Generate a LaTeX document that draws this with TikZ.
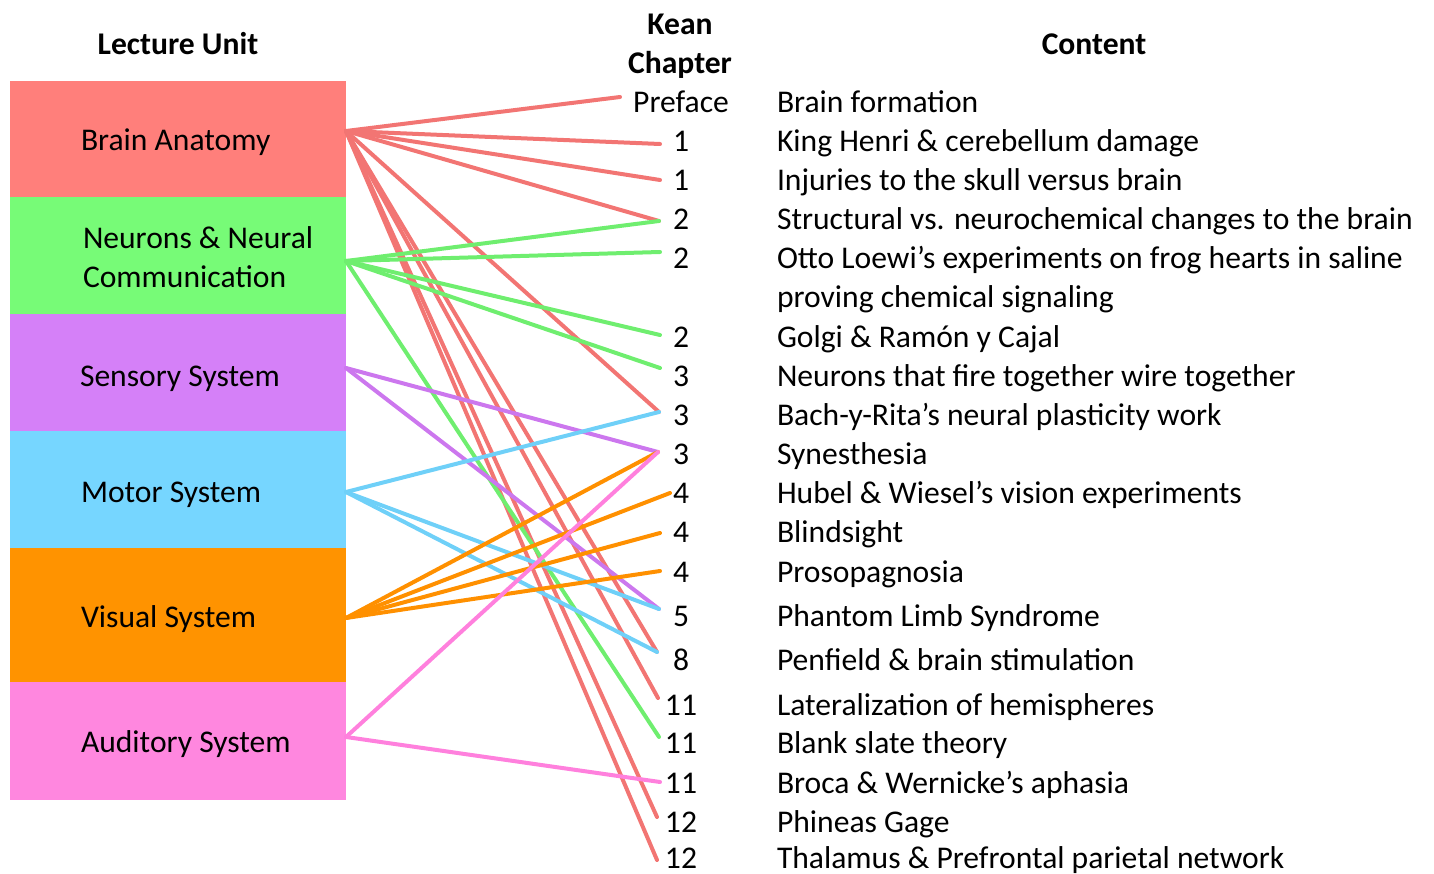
\documentclass[tikz,border=0pt]{standalone}
\usepackage{fontspec}
\setmainfont{Carlito}
\definecolor{bRed}{HTML}{FF7F7B}
\definecolor{bGreen}{HTML}{77FB77}
\definecolor{bPurple}{HTML}{D580F8}
\definecolor{bBlue}{HTML}{76D6FF}
\definecolor{bOrange}{HTML}{FF9300}
\definecolor{bPink}{HTML}{FF87DF}
\definecolor{lRed}{HTML}{F27573}
\definecolor{lGreen}{HTML}{6FEE6F}
\definecolor{lPurple}{HTML}{CC77EE}
\definecolor{lBlue}{HTML}{6FD0F8}
\definecolor{lOrange}{HTML}{FF9000}
\definecolor{lPink}{HTML}{FF80DD}
\begin{document}
\begin{tikzpicture}[x=1pt,y=-1pt,
  every node/.style={inner sep=0pt,outer sep=0pt,font=\fontsize{31.6}{39}\selectfont},
  unitlabel/.style={anchor=base west,align=left},
  hdr/.style={anchor=base,align=center,font=\fontsize{31.6}{39}\selectfont\bfseries},
  chap/.style={anchor=base},
  cont/.style={anchor=base west},
  link/.style={line width=4pt,line cap=round}]
\useasboundingbox (0,0) rectangle (1434,874);
% boxes
\fill[bRed]    (10,81)  rectangle (346,197);
\fill[bGreen]  (10,197) rectangle (346,314);
\fill[bPurple] (10,314) rectangle (346,431);
\fill[bBlue]   (10,431) rectangle (346,548);
\fill[bOrange] (10,548) rectangle (346,682);
\fill[bPink]   (10,682) rectangle (346,800);
\node[unitlabel] (uBA) at (81,151) {Brain Anatomy};
\node[unitlabel] (uNN) at (83,249) {Neurons \& Neural};
\node[unitlabel] (uNN2) at (83,288) {Communication};
\node[unitlabel] (uSS) at (80,386) {Sensory System};
\node[unitlabel] (uMS) at (81,502) {Motor System};
\node[unitlabel] (uVS) at (81,627) {Visual System};
\node[unitlabel] (uAS) at (81,752) {Auditory System};
% headers
\node[hdr] (hLU) at (178,55) {Lecture Unit};
\node[hdr] (hK) at (680,35) {Kean};
\node[hdr] (hC) at (680,74) {Chapter};
\node[hdr] (hCo) at (1094,55) {Content};
% chapters
\foreach \n/\y/\t in {0/102/Preface,1/141/1,2/180/1,3/219/2,4/258/2,5/336/2,6/375/3,7/414/3,8/453/3,9/492/4,10/531/4,11/571/4,12/615/5,13/659/8,14/704/11,15/742/11,16/782/11,17/821/12,18/857/12}
  \node[chap] (c\n) at (681,\y+11) {\t};
% content
\node[cont] (t0) at (777,113) {Brain formation};
\node[cont] (t1) at (777,152) {King Henri \& cerebellum damage};
\node[cont] (t2) at (777,191) {Injuries to the skull versus brain};
\node[cont] (t3) at (777,230) {Structural vs. neurochemical changes to the brain};
\node[cont] (t4) at (777,269) {Otto Loewi’s experiments on frog hearts in saline};
\node[cont] (t4b) at (777,308) {proving chemical signaling};
\node[cont] (t5) at (777,347) {Golgi \& Ramón y Cajal};
\node[cont] (t6) at (777,386) {Neurons that fire together wire together};
\node[cont] (t7) at (777,425) {Bach-y-Rita’s neural plasticity work};
\node[cont] (t8) at (777,464) {Synesthesia};
\node[cont] (t9) at (777,503) {Hubel \& Wiesel’s vision experiments};
\node[cont] (t10) at (777,542) {Blindsight};
\node[cont] (t11) at (777,582) {Prosopagnosia};
\node[cont] (t12) at (777,626) {Phantom Limb Syndrome};
\node[cont] (t13) at (777,670) {Penfield \& brain stimulation};
\node[cont] (t14) at (777,715) {Lateralization of hemispheres};
\node[cont] (t15) at (777,753) {Blank slate theory};
\node[cont] (t16) at (777,793) {Broca \& Wernicke’s aphasia};
\node[cont] (t17) at (777,832) {Phineas Gage};
\node[cont] (t18) at (777,868) {Thalamus \& Prefrontal parietal network};
% sources
\coordinate (sBA) at (346,131);
\coordinate (sNN) at (346,261);
\coordinate (sSS) at (346,368);
\coordinate (sMS) at (346,492);
\coordinate (sVS) at (346,618);
\coordinate (sAS) at (346,737);
% targets
\coordinate (e0) at (620,97);
\coordinate (e1) at (660,144);
\coordinate (e2) at (660,180);
\coordinate (e3) at (659,221);
\coordinate (e4) at (660,252);
\coordinate (e5) at (660,335);
\coordinate (e6) at (660,368);
\coordinate (e7) at (659,412);
\coordinate (e8) at (658,452);
\coordinate (e9) at (670,493);
\coordinate (e10) at (660,533);
\coordinate (e11) at (660,571);
\coordinate (e12) at (659,609);
\coordinate (e13) at (657,652);
\coordinate (e14) at (658,698);
\coordinate (e15) at (659,737);
\coordinate (e16) at (660,782);
\coordinate (e17) at (657,817);
\coordinate (e18) at (657,860);
% links
\foreach \e in {e0,e1,e2,e3,e7,e13,e14,e17,e18} \draw[link,lRed] (sBA) -- (\e);
\foreach \e in {e3,e4,e5,e6,e15} \draw[link,lGreen] (sNN) -- (\e);
\foreach \e in {e8,e12} \draw[link,lPurple] (sSS) -- (\e);
\foreach \e in {e7,e12,e13} \draw[link,lBlue] (sMS) -- (\e);
\foreach \e in {e8,e9,e10,e11} \draw[link,lOrange] (sVS) -- (\e);
\foreach \e in {e8,e16} \draw[link,lPink] (sAS) -- (\e);
\end{tikzpicture}
\end{document}
